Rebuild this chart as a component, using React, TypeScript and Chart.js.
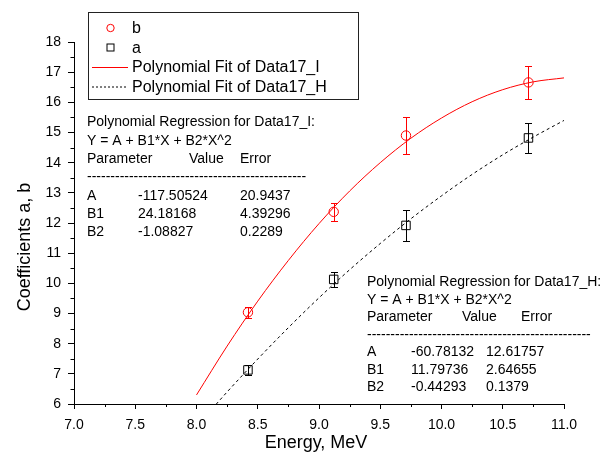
import { useEffect, useRef } from 'react';
import { Chart, registerables } from 'chart.js';

Chart.register(...registerables);

// Measured points (Energy, MeV) with error bars
const energyB = [8.42, 9.12, 9.71, 10.71];
const coefB = [9.04, 12.37, 14.9, 16.66];
const errB = [0.18, 0.3, 0.61, 0.55];

const energyA = [8.42, 9.12, 9.71, 10.71];
const coefA = [7.13, 10.13, 11.92, 14.82];
const errA = [0.17, 0.25, 0.52, 0.51];

// Fit curves
const fitIX = [8.0, 8.25, 8.5, 8.75, 9.0, 9.25, 9.5, 9.75, 10.0, 10.25, 10.5, 10.75, 11.0];
const fitIY = [6.3, 7.92, 9.41, 10.76, 11.98, 13.06, 14.0, 14.81, 15.48, 16.02, 16.42, 16.68, 16.81];
const fitHX = [8.16, 8.25, 8.5, 8.75, 9.0, 9.25, 9.5, 9.75, 10.0, 10.25, 10.5, 10.75, 11.0];
const fitHY = [5.99, 6.4, 7.49, 8.53, 9.52, 10.45, 11.32, 12.14, 12.9, 13.61, 14.26, 14.85, 15.4];

const xMin = 7;
const xMax = 11;
const yMin = 6;
const yMax = 18;

const legendLabels = ['b', 'a', 'Polynomial Fit of Data17_I', 'Polynomial Fit of Data17_H'];
const xTitle = 'Energy, MeV';
const yTitle = 'Coefficients a, b';

const regI = {
  title: 'Polynomial Regression for Data17_I:',
  eq: 'Y = A + B1*X + B2*X^2',
  params: ['A', 'B1', 'B2'],
  values: ['-117.50524', '24.18168', '-1.08827'],
  errors: ['20.9437', '4.39296', '0.2289'],
};
const regH = {
  title: 'Polynomial Regression for Data17_H:',
  eq: 'Y = A + B1*X + B2*X^2',
  params: ['A', 'B1', 'B2'],
  values: ['-60.78132', '11.79736', '-0.44293'],
  errors: ['12.61757', '2.64655', '0.1379'],
};

const FONT = "'Liberation Sans', Arial, sans-serif";
const RED = '#ff0000';

export default function App() {
  const ref = useRef<HTMLCanvasElement>(null);

  useEffect(() => {
    document.body.style.margin = '0';
    const canvas = ref.current;
    if (!canvas) return;

    const errorBars = {
      id: 'errorBars',
      afterDatasetsDraw(chart: any) {
        const { ctx } = chart;
        const xs = chart.scales.x;
        const ys = chart.scales.y;
        const sets = [
          { xv: energyB, yv: coefB, ev: errB, color: RED },
          { xv: energyA, yv: coefA, ev: errA, color: '#000' },
        ];
        ctx.save();
        ctx.lineWidth = 1;
        for (const s of sets) {
          ctx.strokeStyle = s.color;
          for (let i = 0; i < s.xv.length; i++) {
            const px = Math.round(xs.getPixelForValue(s.xv[i])) + 0.5;
            const top = Math.round(ys.getPixelForValue(s.yv[i] + s.ev[i])) + 0.5;
            const bot = Math.round(ys.getPixelForValue(s.yv[i] - s.ev[i])) + 0.5;
            ctx.beginPath();
            ctx.moveTo(px, top);
            ctx.lineTo(px, bot);
            ctx.moveTo(px - 3.5, top);
            ctx.lineTo(px + 3.5, top);
            ctx.moveTo(px - 3.5, bot);
            ctx.lineTo(px + 3.5, bot);
            ctx.stroke();
          }
        }
        ctx.restore();
      },
    };

    const decorations = {
      id: 'decorations',
      afterDraw(chart: any) {
        const { ctx, chartArea } = chart;
        const xs = chart.scales.x;
        const ys = chart.scales.y;
        ctx.save();
        // minor ticks
        ctx.strokeStyle = '#000';
        ctx.lineWidth = 1;
        ctx.beginPath();
        for (let v = xMin + 0.25; v < xMax; v += 0.5) {
          const px = Math.round(xs.getPixelForValue(v)) + 0.5;
          ctx.moveTo(px, chartArea.bottom);
          ctx.lineTo(px, chartArea.bottom + 3);
        }
        for (let v = yMin + 0.5; v < yMax; v += 1) {
          const py = Math.round(ys.getPixelForValue(v)) + 0.5;
          ctx.moveTo(chartArea.left, py);
          ctx.lineTo(chartArea.left - 3.5, py);
        }
        ctx.stroke();

        // axis titles
        ctx.fillStyle = '#000';
        ctx.font = `18px ${FONT}`;
        ctx.textAlign = 'center';
        ctx.textBaseline = 'middle';
        ctx.fillText(xTitle, (chartArea.left + chartArea.right) / 2 - 3, 443);
        ctx.save();
        ctx.translate(25, 247);
        ctx.rotate(-Math.PI / 2);
        ctx.fillText(yTitle, 0, 0);
        ctx.restore();

        // legend
        ctx.strokeStyle = '#222';
        ctx.lineWidth = 1;
        ctx.strokeRect(88.5, 12.5, 270, 87);
        const rows = [28, 47.5, 67, 86.5];
        ctx.font = `16px ${FONT}`;
        ctx.textAlign = 'left';
        ctx.textBaseline = 'middle';
        legendLabels.forEach((t, i) => ctx.fillText(t, 132, rows[i] + 1));
        ctx.strokeStyle = RED;
        ctx.beginPath();
        ctx.arc(110.5, rows[0], 3.7, 0, Math.PI * 2);
        ctx.stroke();
        ctx.strokeStyle = '#000';
        ctx.strokeRect(107, 44, 7, 7);
        ctx.strokeStyle = RED;
        ctx.beginPath();
        ctx.moveTo(92, rows[2] + 0.5);
        ctx.lineTo(128, rows[2] + 0.5);
        ctx.stroke();
        ctx.strokeStyle = '#000';
        ctx.setLineDash([2, 2]);
        ctx.beginPath();
        ctx.moveTo(92, rows[3] + 0.5);
        ctx.lineTo(128, rows[3] + 0.5);
        ctx.stroke();
        ctx.setLineDash([]);

        // regression text boxes
        ctx.font = `14px ${FONT}`;
        const dashes = (n: number) => '-'.repeat(n);
        const drawBox = (r: any, x0: number, ys0: number[], vx: number, ex: number, hvx: number, hex: number, nd: number) => {
          ctx.fillText(r.title, x0, ys0[0]);
          ctx.fillText(r.eq, x0, ys0[1]);
          ctx.fillText('Parameter', x0, ys0[2]);
          ctx.fillText('Value', hvx, ys0[2]);
          ctx.fillText('Error', hex, ys0[2]);
          ctx.fillText(dashes(nd), x0, ys0[3]);
          for (let i = 0; i < 3; i++) {
            ctx.fillText(r.params[i], x0, ys0[4 + i]);
            ctx.fillText(r.values[i], vx, ys0[4 + i]);
            ctx.fillText(r.errors[i], ex, ys0[4 + i]);
          }
        };
        drawBox(regI, 87, [122, 141, 159, 177, 196, 214, 232], 138, 240, 189, 240, 47);
        drawBox(regH, 367, [282, 300, 317, 335, 352, 370, 387], 411, 486, 462, 521, 48);
        ctx.restore();
      },
    };

    const chart = new Chart(canvas, {
      type: 'scatter',
      data: {
        datasets: [
          {
            label: 'Polynomial Fit of Data17_I',
            type: 'line',
            data: fitIX.map((x, i) => ({ x, y: fitIY[i] })),
            borderColor: RED,
            borderWidth: 1,
            pointRadius: 0,
            cubicInterpolationMode: 'monotone',
            fill: false,
          } as any,
          {
            label: 'Polynomial Fit of Data17_H',
            type: 'line',
            data: fitHX.map((x, i) => ({ x, y: fitHY[i] })),
            borderColor: '#000',
            borderWidth: 1,
            borderDash: [3, 3],
            pointRadius: 0,
            cubicInterpolationMode: 'monotone',
            fill: false,
          } as any,
          {
            label: 'b',
            data: energyB.map((x, i) => ({ x, y: coefB[i] })),
            pointStyle: 'circle',
            pointRadius: 4.7,
            borderColor: RED,
            backgroundColor: 'rgba(0,0,0,0)',
            borderWidth: 1,
          },
          {
            label: 'a',
            data: energyA.map((x, i) => ({ x, y: coefA[i] })),
            pointStyle: 'rect',
            pointRadius: 6,
            borderColor: '#000',
            backgroundColor: 'rgba(0,0,0,0)',
            borderWidth: 1,
          },
        ],
      },
      options: {
        animation: false,
        responsive: false,
        events: [],
        layout: { padding: { top: 42, right: 47, left: 0, bottom: 0 } },
        plugins: {
          legend: { display: false },
          tooltip: { enabled: false },
        },
        scales: {
          x: {
            type: 'linear',
            min: xMin,
            max: xMax,
            afterFit: (s: any) => {
              s.height = 48;
            },
            ticks: {
              stepSize: 0.5,
              color: '#000',
              font: { family: FONT, size: 14 },
              padding: 8,
              maxRotation: 0,
              callback: (v: any) => Number(v).toFixed(1),
            },
            grid: { drawOnChartArea: false, drawTicks: true, tickLength: 5, color: '#000' },
            border: { display: true, color: '#000', width: 1 },
          },
          y: {
            type: 'linear',
            min: yMin,
            max: yMax,
            afterFit: (s: any) => {
              s.width = 74;
            },
            ticks: {
              stepSize: 1,
              color: '#000',
              font: { family: FONT, size: 14 },
              padding: 7,
            },
            grid: { drawOnChartArea: false, drawTicks: true, tickLength: 6, color: '#000' },
            border: { display: true, color: '#000', width: 1 },
          },
        },
      },
      plugins: [errorBars, decorations],
    });

    return () => chart.destroy();
  }, []);

  return (
    <div style={{ width: 611, height: 452 }}>
      <canvas ref={ref} width={611} height={452} style={{ display: 'block' }} />
    </div>
  );
}
